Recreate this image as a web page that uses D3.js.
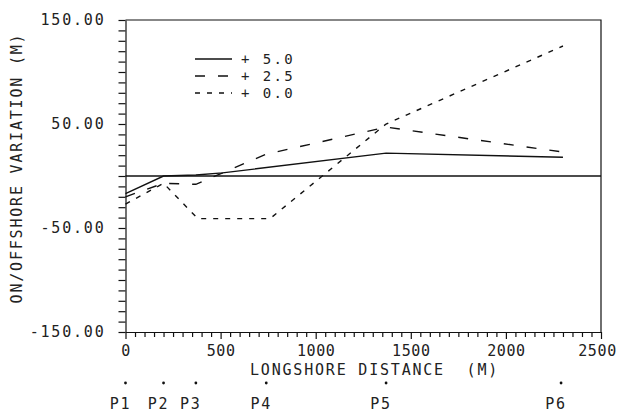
<!DOCTYPE html>
<html>
<head>
<meta charset="utf-8">
<script src="https://cdn.jsdelivr.net/npm/d3@7"></script>
<style>
  body { margin: 0; background: #fff; }
  svg text { font-family: "DejaVu Sans Mono", "Liberation Mono", monospace; font-size: 15px; letter-spacing: 1.8px; fill: #222; }
</style>
</head>
<body>
<div id="chart"></div>
<script>
// Shoreline change along the coast, three sea level cases
const solidX = [0, 200, 370, 510, 1370, 2300];
const solidY = [-17, 0, 1, 3, 22, 18];
const dashX = [0, 200, 370, 740, 1370, 2300];
const dashY = [-20, -7, -8, 21, 47, 23];
const dotX = [0, 200, 380, 760, 1370, 2300];
const dotY = [-27, -7, -41, -41, 50, 125];

const legendLabels = ['+ 5.0', '+ 2.5', '+ 0.0'];
const stationX = [0, 200, 370, 740, 1370, 2290];
const stationLabels = ['P1', 'P2', 'P3', 'P4', 'P5', 'P6'];
const yMajor = [150, 50, -50, -150];

const width = 619, height = 414;
const svg = d3.select('#chart').append('svg')
    .attr('width', width)
    .attr('height', height);

const x = d3.scaleLinear().domain([0, 2500]).range([125.5, 601]);
const y = d3.scaleLinear().domain([-150, 150]).range([332, 20]);

const series = [
    { xs: solidX, ys: solidY, dash: null },
    { xs: dashX, ys: dashY, dash: '10,13' },
    { xs: dotX, ys: dotY, dash: '5,7' }
];

// Y axis
const yAxis = svg.append('g')
    .attr('transform', `translate(${x(0)},0)`)
    .call(d3.axisLeft(y)
        .tickValues(d3.range(-150, 151, 10))
        .tickSize(7)
        .tickSizeOuter(0)
        .tickPadding(13)
        .tickFormat(d => yMajor.includes(d) ? d.toFixed(2) : ''));

// X axis
const xAxis = svg.append('g')
    .attr('transform', `translate(0,${y(-150)})`)
    .call(d3.axisBottom(x)
        .tickValues(d3.range(0, 2501, 50))
        .tickSize(5)
        .tickSizeOuter(0)
        .tickPadding(8)
        .tickFormat(d => d % 500 === 0 ? d : ''));

[yAxis, xAxis].forEach(g => {
    g.selectAll('path, line').attr('stroke', '#111').attr('stroke-width', 1.2);
    g.attr('font-size', null).attr('font-family', null);
});
xAxis.selectAll('.tick line').attr('y2', d => d % 500 === 0 ? 7 : 5);
xAxis.selectAll('.tick text')
    .style('letter-spacing', '0.6px')
    .attr('dx', d => d === 2500 ? -4 : 0);

// frame: top and right, plus the zero line
svg.append('path')
    .attr('d', `M${x(0)},${y(150)}H${x(2500)}V${y(-150)}`)
    .attr('fill', 'none')
    .attr('stroke', '#111')
    .attr('stroke-width', 1.2);

svg.append('line')
    .attr('x1', x(0)).attr('x2', x(2500))
    .attr('y1', y(0)).attr('y2', y(0))
    .attr('stroke', '#111')
    .attr('stroke-width', 1.5);

// Series lines
const line = d3.line().x(d => x(d[0])).y(d => y(d[1]));
series.forEach(s => {
    svg.append('path')
        .datum(d3.zip(s.xs, s.ys))
        .attr('d', line)
        .attr('fill', 'none')
        .attr('stroke', '#111')
        .attr('stroke-width', 1.4)
        .attr('stroke-dasharray', s.dash);
});

// Legend
series.forEach((s, i) => {
    const ly = 59 + i * 17;
    svg.append('line')
        .attr('x1', 195).attr('x2', 232)
        .attr('y1', ly).attr('y2', ly)
        .attr('stroke', '#111')
        .attr('stroke-width', 1.3)
        .attr('stroke-dasharray', s.dash);
    svg.append('text')
        .attr('x', 241)
        .attr('y', ly)
        .attr('dominant-baseline', 'central')
        .style('font-size', '14px')
        .style('letter-spacing', '2.4px')
        .text(legendLabels[i]);
});

// Axis titles
svg.append('text')
    .attr('x', 250)
    .attr('y', 370)
    .attr('dominant-baseline', 'central')
    .style('white-space', 'pre')
    .text('LONGSHORE DISTANCE  (M)');

svg.append('text')
    .attr('transform', 'translate(17,168) rotate(-90)')
    .attr('text-anchor', 'middle')
    .attr('dominant-baseline', 'central')
    .text('ON/OFFSHORE VARIATION (M)');

// Profile stations
svg.selectAll('.station-dot')
    .data(stationX)
    .enter()
    .append('circle')
    .attr('class', 'station-dot')
    .attr('cx', d => x(d))
    .attr('cy', 383)
    .attr('r', 1.4)
    .attr('fill', '#111');

svg.selectAll('.station-label')
    .data(stationX)
    .enter()
    .append('text')
    .attr('class', 'station-label')
    .attr('x', d => x(d) - 5)
    .attr('y', 404)
    .attr('text-anchor', 'middle')
    .attr('dominant-baseline', 'central')
    .text((d, i) => stationLabels[i]);
</script>
</body>
</html>
